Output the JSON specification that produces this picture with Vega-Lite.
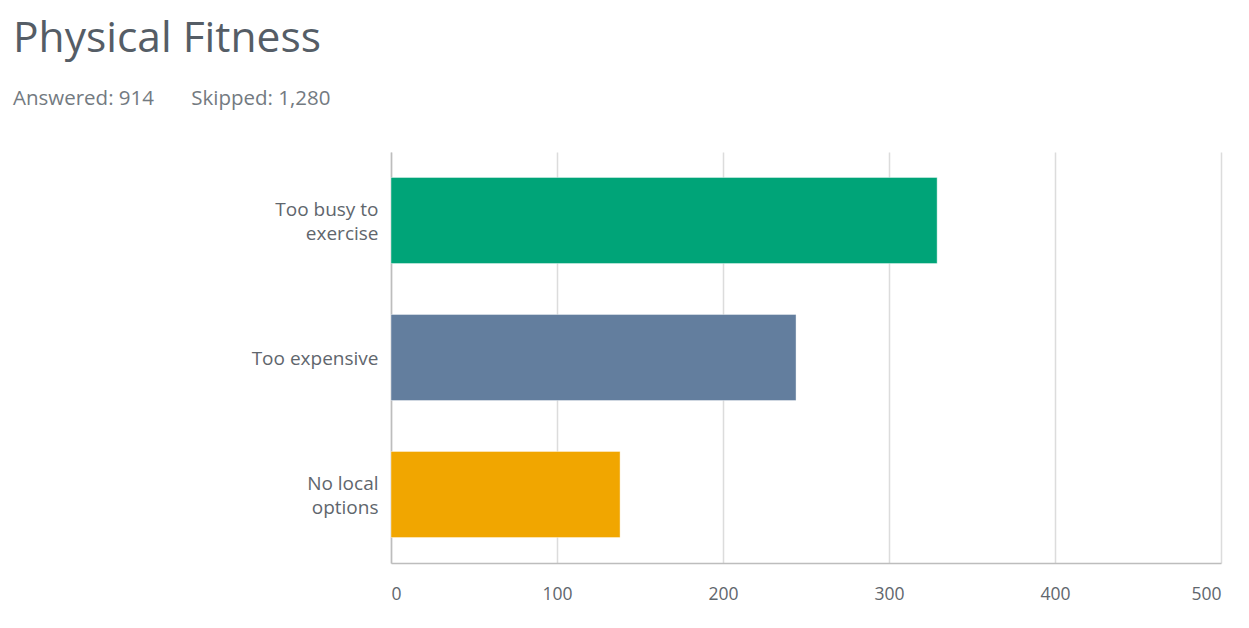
{
  "$schema": "https://vega.github.io/schema/vega-lite/v6.json",
  "autosize": "none",
  "width": 830,
  "height": 411,
  "padding": {"left": 391, "top": 152, "right": 28, "bottom": 65},
  "background": "white",
  "title": {
    "text": "Physical Fitness",
    "subtitle": "Answered: 914\u00a0\u00a0\u00a0\u00a0\u00a0\u00a0\u00a0Skipped: 1,280",
    "anchor": "start",
    "frame": "group",
    "dx": -378,
    "offset": 43,
    "font": "Open Sans",
    "fontSize": 42.5,
    "fontWeight": 400,
    "color": "#555d66",
    "subtitleFont": "Open Sans",
    "subtitleFontSize": 20.5,
    "subtitleFontWeight": 500,
    "subtitleColor": "#737a81",
    "subtitlePadding": 28
  },
  "data": {
    "values": [
      {"option": "Too busy to exercise", "count": 329},
      {"option": "Too expensive", "count": 244},
      {"option": "No local options", "count": 138}
    ]
  },
  "mark": {"type": "bar", "stroke": "white", "strokeOpacity": 0.4, "strokeWidth": 1},
  "encoding": {
    "y": {
      "field": "option",
      "type": "nominal",
      "sort": null,
      "scale": {"paddingInner": 0.372, "paddingOuter": 0.186},
      "axis": {
        "title": null,
        "ticks": false,
        "domain": true,
        "domainColor": "#bdbdbd",
        "domainWidth": 1.5,
        "labelFont": "Open Sans",
        "labelFontSize": 19,
        "labelColor": "#5f666d",
        "labelPadding": 13,
        "labelLineHeight": 24,
        "labelLimit": 300,
        "labelOffset": {"condition": {"test": "datum.value == 'Too expensive'", "value": 1}, "value": -11},
        "labelExpr": "datum.value == 'Too busy to exercise' ? ['Too busy to', 'exercise'] : datum.value == 'No local options' ? ['No local', 'options'] : datum.value"
      }
    },
    "x": {
      "field": "count",
      "type": "quantitative",
      "scale": {"domain": [0, 500]},
      "axis": {
        "title": null,
        "values": [0, 100, 200, 300, 400, 500],
        "ticks": false,
        "domain": true,
        "domainColor": "#bdbdbd",
        "domainWidth": 1.5,
        "grid": true,
        "gridColor": "#dcdcdc",
        "gridWidth": 1.5,
        "labelFont": "Open Sans",
        "labelFontSize": 17.5,
        "labelColor": "#5f666d",
        "labelPadding": 22,
        "labelFlush": true
      }
    },
    "color": {
      "field": "option",
      "type": "nominal",
      "scale": {
        "domain": ["Too busy to exercise", "Too expensive", "No local options"],
        "range": ["#00a478", "#637e9e", "#f1a600"]
      },
      "legend": null
    }
  },
  "config": {"view": {"stroke": null}}
}
